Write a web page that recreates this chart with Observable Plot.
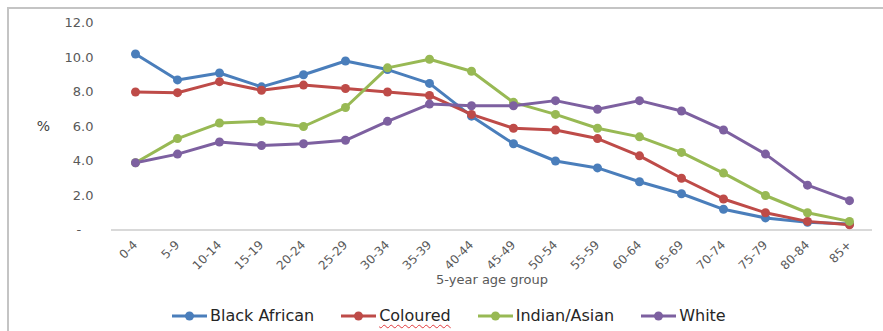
<!DOCTYPE html>
<html>
<head>
<meta charset="utf-8">
<script src="https://cdn.jsdelivr.net/npm/d3@7"></script>
<script src="https://cdn.jsdelivr.net/npm/@observablehq/plot@0.6"></script>
<style>
  body { margin: 0; background: #fff; font-family: "DejaVu Sans", sans-serif; }
  #wrap { position: relative; width: 883px; height: 331px; overflow: hidden; background: #fff; }
  #frame { position: absolute; left: 7px; top: 7px; width: 900px; height: 400px;
           border-left: 2px solid #c4c4c4; border-top: 2px solid #c4c4c4; box-sizing: border-box; }
  #chart { position: absolute; left: 0; top: 0; }
  #chart svg [aria-label="x-axis tick label"] text,
  #chart svg [aria-label="x-axis tick label"] { font-size: 12px; }
  #legend { position: absolute; left: 172px; top: 306px; display: flex; gap: 27px;
            font-size: 16px; color: #262626; line-height: 20px; }
  .item { display: flex; align-items: center; gap: 3px; }
  .item svg { display: block; }
  .spell { text-decoration: underline wavy #e0383b; text-decoration-thickness: 1px; text-underline-offset: 3px; }
</style>
</head>
<body>
<div id="wrap">
  <div id="frame"></div>
  <div id="chart"></div>
  <div id="legend"></div>
</div>
<script>
// Share of each population group by 5-year age group (%)
const ageGroups = ["0-4", "5-9", "10-14", "15-19", "20-24", "25-29", "30-34", "35-39", "40-44",
                   "45-49", "50-54", "55-59", "60-64", "65-69", "70-74", "75-79", "80-84", "85+"];
const blackAfrican = [10.2, 8.7, 9.1, 8.3, 9.0, 9.8, 9.3, 8.5, 6.6, 5.0, 4.0, 3.6, 2.8, 2.1, 1.2, 0.7, 0.45, 0.35];
const coloured     = [8.0, 7.96, 8.6, 8.1, 8.4, 8.2, 8.0, 7.8, 6.7, 5.9, 5.8, 5.3, 4.3, 3.0, 1.8, 1.0, 0.5, 0.3];
const indianAsian  = [3.9, 5.3, 6.2, 6.3, 6.0, 7.1, 9.4, 9.9, 9.2, 7.4, 6.7, 5.9, 5.4, 4.5, 3.3, 2.0, 1.0, 0.5];
const white        = [3.9, 4.4, 5.1, 4.9, 5.0, 5.2, 6.3, 7.3, 7.2, 7.2, 7.5, 7.0, 7.5, 6.9, 5.8, 4.4, 2.6, 1.7];
const seriesNames  = ["Black African", "Coloured", "Indian/Asian", "White"];
const seriesColors = ["#4a7ebb", "#be4b48", "#98b954", "#7d60a0"];
const yTicks = [0, 2, 4, 6, 8, 10, 12];

const seriesValues = [blackAfrican, coloured, indianAsian, white];
const rows = seriesNames.flatMap((name, i) =>
  ageGroups.map((age, j) => ({series: name, age, value: seriesValues[i][j]}))
);

const chart = Plot.plot({
  width: 883,
  height: 295,
  marginLeft: 111,
  marginRight: 11,
  marginTop: 22.5,
  marginBottom: 65.5,
  style: {fontFamily: "DejaVu Sans, sans-serif", fontSize: "13px", color: "#595959", background: "transparent"},
  x: {type: "point", domain: ageGroups, padding: 0.5, label: null, tickSize: 0, tickPadding: 13, tickRotate: -45},
  y: {domain: [0, 12], ticks: yTicks, label: null, tickSize: 0, tickPadding: 18,
      tickFormat: d => d === 0 ? "-\u00a0\u00a0\u00a0" : d.toFixed(1)},
  color: {domain: seriesNames, range: seriesColors},
  marks: [
    Plot.ruleY([0], {stroke: "#d9d9d9", strokeWidth: 2}),
    Plot.line(rows, {x: "age", y: "value", z: "series", stroke: "series", strokeWidth: 3,
                     strokeLinejoin: "round", strokeLinecap: "round"}),
    Plot.dot(rows, {x: "age", y: "value", fill: "series", r: 4.5}),
    Plot.text(["%"], {frameAnchor: "left", dx: -68, textAnchor: "middle", fontSize: 14, fill: "#404040"}),
    Plot.text(["5-year age group"], {frameAnchor: "bottom", dy: 54, fontSize: 13, fill: "#595959"})
  ]
});
document.getElementById("chart").appendChild(chart);

// Legend: line-and-marker swatch followed by the series name
const legend = d3.select("#legend");
seriesNames.forEach((name, i) => {
  const item = legend.append("div").attr("class", "item");
  const sw = item.append("svg").attr("width", 35).attr("height", 12);
  sw.append("line").attr("x1", 0).attr("x2", 35).attr("y1", 6).attr("y2", 6)
    .attr("stroke", seriesColors[i]).attr("stroke-width", 3);
  sw.append("circle").attr("cx", 17.5).attr("cy", 6).attr("r", 4.5).attr("fill", seriesColors[i]);
  item.append("span").attr("class", name === "Coloured" ? "spell" : null).text(name);
});
</script>
</body>
</html>
